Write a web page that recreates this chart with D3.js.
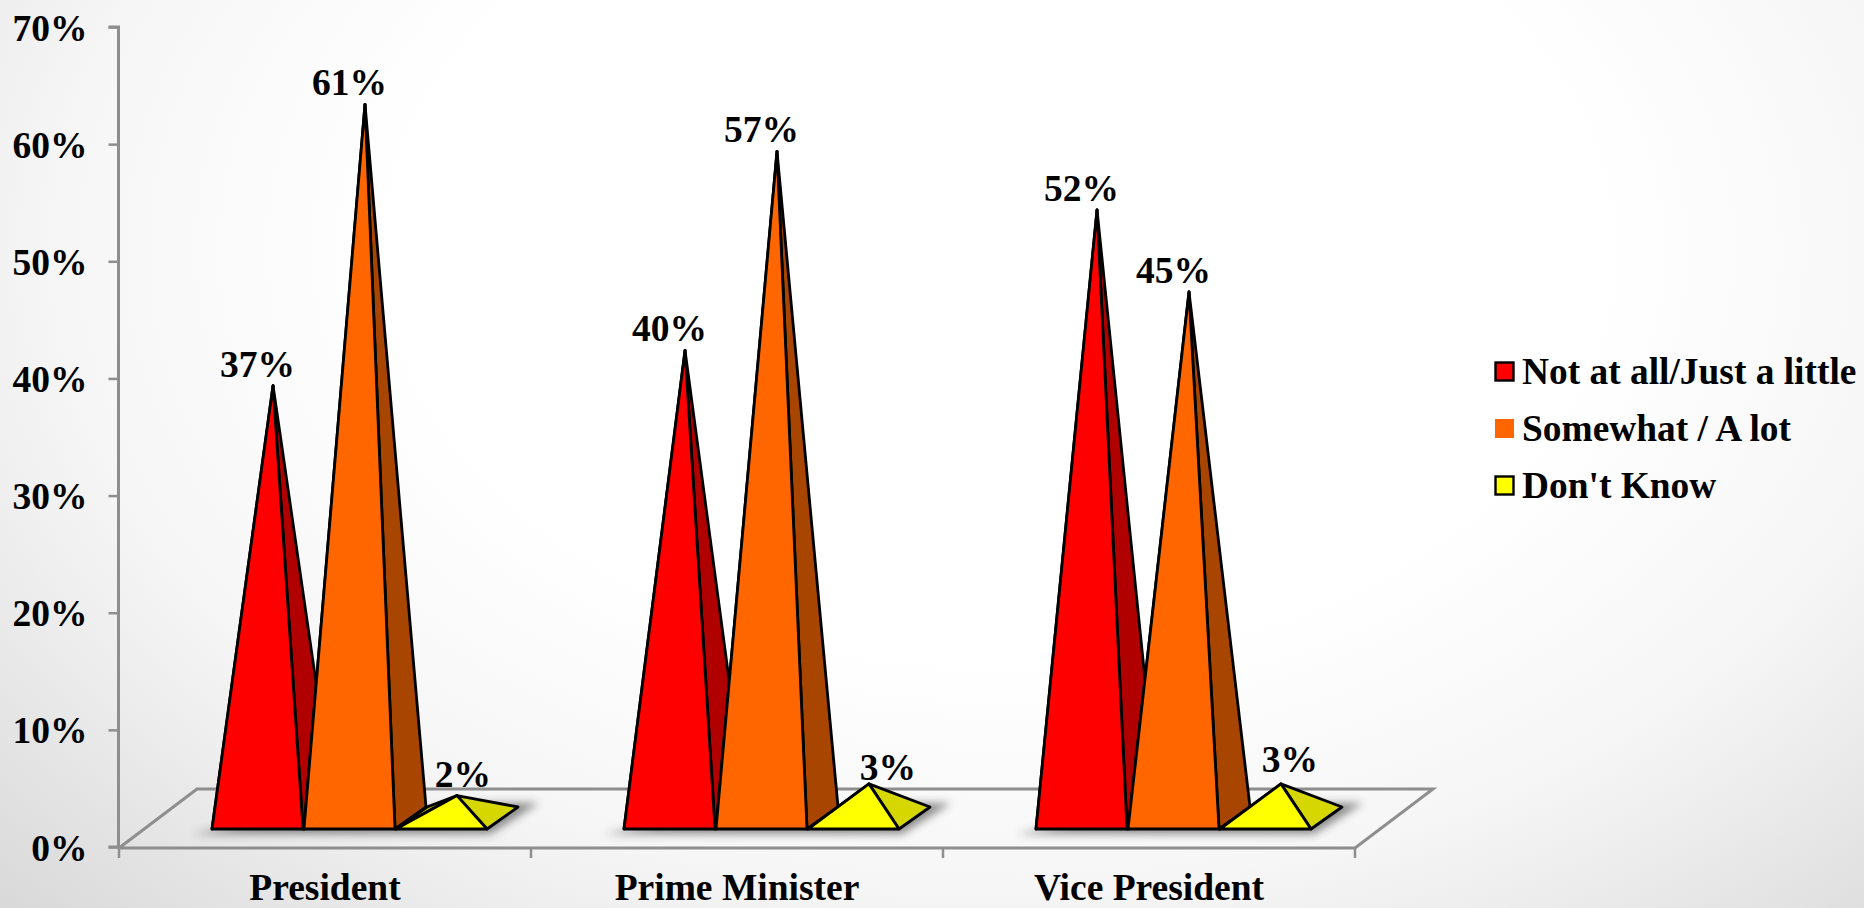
<!DOCTYPE html>
<html>
<head>
<meta charset="utf-8">
<script src="https://cdn.jsdelivr.net/npm/d3@7"></script>
<style>
  html, body { margin: 0; padding: 0; background: #fff; overflow: hidden; }
  svg { display: block; }
  text { font-family: "Liberation Serif", "Times New Roman", serif; font-weight: bold; fill: #000; }
</style>
</head>
<body>
<svg id="chart" width="1864" height="908"></svg>
<script>
// Survey responses per office, in percent
const categories = ["President", "Prime Minister", "Vice President"];
const seriesNames = ["Not at all/Just a little", "Somewhat / A lot", "Don't Know"];
const notAtAll = [37, 40, 52];
const somewhat = [61, 57, 45];
const dontKnow = [2, 3, 3];
const seriesValues = [notAtAll, somewhat, dontKnow];
const yTicks = [0, 10, 20, 30, 40, 50, 60, 70];
const frontColors = ["#ff0000", "#ff6600", "#ffff00"];
const sideColors = ["#b00000", "#a84500", "#d6d600"];
const innerColors = ["#8f0000", "#8a3800", "#a8a800"];

const W = 1864, H = 908;
const svg = d3.select("#chart");
const defs = svg.append("defs");

// Page backdrop: white in the middle, greying toward the corners
const bg = defs.append("radialGradient").attr("id", "page")
  .attr("gradientUnits", "userSpaceOnUse")
  .attr("cx", 0).attr("cy", 0).attr("r", 1)
  .attr("gradientTransform", "translate(1000,250) scale(1400,952)");
[[0, "#ffffff"], [0.43, "#ffffff"], [0.67, "#f6f6f6"], [0.764, "#eeeeee"], [1, "#d8d8d8"]]
  .forEach(([o, c]) => bg.append("stop").attr("offset", o).attr("stop-color", c));
svg.append("rect").attr("width", W).attr("height", H).attr("fill", "url(#page)");

defs.append("filter").attr("id", "soft")
  .attr("x", "-20%").attr("y", "-60%").attr("width", "140%").attr("height", "220%")
  .append("feGaussianBlur").attr("stdDeviation", 4.5);

const y = d3.scaleLinear().domain([0, 70]).range([847, 27]);
const x0 = d3.scaleBand().domain(categories).range([119, 1355]);
const x1 = d3.scaleBand().domain(d3.range(seriesNames.length)).range([93, 368]).paddingInner(0.01);

// Oblique projection: depth runs up and to the right
const floorDepth = { dx: 78, dy: -59 };
const barDepth = { dx: 31, dy: -22 };
const baseY = y(0) - 18;
// The apex stands over the centre of the base, so it rises from mid-depth
const apexDrop = 28;
// Hand placement of the labels on the low pyramids, per office
const lowLabelNudge = [[6, 0], [19, 5], [9, -3]];

const line = d3.line();
const axisColor = "#8e8e8e";

// Floor outline
const fx0 = x0.range()[0], fx1 = x0.range()[1], fy = y(0) + 1;
svg.append("path").attr("fill", "none").attr("stroke", axisColor).attr("stroke-width", 3)
  .attr("stroke-linejoin", "miter").attr("d", line([
    [fx0, fy],
    [fx0 + floorDepth.dx, fy + floorDepth.dy],
    [fx1 + floorDepth.dx, fy + floorDepth.dy],
    [fx1, fy],
    [fx0, fy]
  ]));

// Value axis
const yAxis = svg.append("g").attr("transform", "translate(118.5,0)")
  .call(d3.axisLeft(y).tickValues(yTicks).tickSize(10).tickPadding(21).tickFormat(d => d + "%"));
yAxis.selectAll("path, line").attr("stroke", axisColor).attr("stroke-width", 2.5);
yAxis.select("path").attr("stroke-width", 3)
  .attr("d", line([[-10, y(70)], [0, y(70)], [0, y(0)], [-10, y(0)]]));
yAxis.selectAll("text").attr("font-size", 37.5).attr("text-anchor", "end").attr("dy", null)
  .attr("y", 13);

// Category axis: ticks on the band edges, labels in the band centres
const xAxis = svg.append("g").attr("transform", `translate(0,${fy})`)
  .call(d3.axisBottom(x0).tickSize(0).tickPadding(0));
xAxis.select("path").remove();
xAxis.selectAll("text").attr("font-size", 37.5).attr("dy", null).attr("y", 52);
const edges = categories.map(c => x0(c)).concat(x0.range()[1]);
xAxis.selectAll("line.edge").data(edges).join("line").attr("class", "edge")
  .attr("x1", d => d).attr("x2", d => d).attr("y1", 0).attr("y2", 10)
  .attr("stroke", axisColor).attr("stroke-width", 2.5);

// One cluster of pyramids per office
categories.forEach(cat => {
  const left = x0(cat) + x1(0);
  const right = x0(cat) + x1(2) + x1.bandwidth();
  const g = svg.append("g");

  // Cast shadow beneath the cluster
  g.append("path").attr("fill", "#303030").attr("opacity", 0.55).attr("filter", "url(#soft)")
    .attr("d", line([
      [left - 20, baseY + 5],
      [right + 3, baseY + 5],
      [right + 52, baseY - 26],
      [right + 10, baseY - 26],
      [left + 40, baseY - 6]
    ]) + "Z");

  seriesNames.forEach((name, si) => {
    const v = seriesValues[si][categories.indexOf(cat)];
    const bx = x0(cat) + x1(si), bw = x1.bandwidth();
    const fl = [bx, baseY], fr = [bx + bw, baseY];
    const bl = [bx + barDepth.dx, baseY + barDepth.dy];
    const br = [bx + bw + barDepth.dx, baseY + barDepth.dy];
    const apex = [bx + bw / 2 + barDepth.dx / 2, y(v) - apexDrop];
    const face = (pts, fill) => g.append("path").attr("d", line(pts) + "Z")
      .attr("fill", fill).attr("stroke", "#000").attr("stroke-width", 2.8)
      .attr("stroke-linejoin", "round");
    face([fl, bl, apex], innerColors[si]);
    face([fr, br, apex], sideColors[si]);
    face([fl, fr, apex], frontColors[si]);
  });
});

// Value labels go last so they stay on top of the marks
categories.forEach((cat, ci) => {
  seriesNames.forEach((name, si) => {
    const v = seriesValues[si][ci];
    const baseCentre = x0(cat) + x1(si) + x1.bandwidth() / 2;
    const apexX = baseCentre + barDepth.dx / 2;
    const low = v < 5;
    svg.append("text")
      .attr("x", low ? apexX + lowLabelNudge[ci][0] : baseCentre)
      .attr("y", y(v) - apexDrop - 9 + (low ? lowLabelNudge[ci][1] : 0))
      .attr("text-anchor", "middle").attr("font-size", 37.5)
      .text(v + "%");
  });
});

// Legend
const legendY = d3.scalePoint().domain(seriesNames).range([372, 486]);
const legend = svg.append("g").selectAll("g").data(seriesNames).join("g")
  .attr("transform", d => `translate(0,${legendY(d)})`);
legend.append("rect")
  .attr("x", (d, i) => i === 1 ? 1495 : 1495.5).attr("y", (d, i) => i === 1 ? -10 : -9.5)
  .attr("width", (d, i) => i === 1 ? 19 : 18).attr("height", (d, i) => i === 1 ? 19 : 18)
  .attr("fill", (d, i) => frontColors[i])
  .attr("stroke", (d, i) => i === 1 ? "none" : "#000").attr("stroke-width", 2.4);
legend.append("text").attr("x", 1522).attr("y", 12).attr("font-size", 37.4).text(d => d);
</script>
</body>
</html>
